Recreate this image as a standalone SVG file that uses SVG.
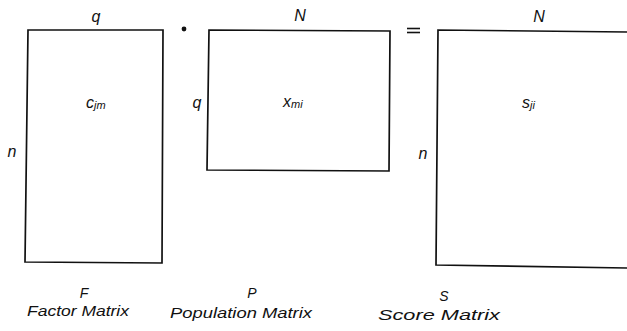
<svg xmlns="http://www.w3.org/2000/svg" width="627" height="331" viewBox="0 0 627 331">
<style>
.m{fill:none;stroke:#111;stroke-width:1.7;stroke-linejoin:miter}
text{font-family:"Liberation Sans","DejaVu Sans",sans-serif;font-style:italic;fill:#111}
.l{font-size:16px}
.s{font-size:14px}
.sub{font-size:11px}
</style>
<rect width="627" height="331" fill="#fff"/>
<g id="factor">
<path class="m" d="M28,30 L163,30 L162,263 L25,262 Z"/>
<text class="l" x="96" y="22" text-anchor="middle">q</text>
<text class="l" x="12" y="157" text-anchor="middle">n</text>
<text class="l" x="86" y="108">c<tspan class="sub" dy="1">jm</tspan></text>
<text class="s" x="84" y="298" text-anchor="middle">F</text>
<text class="s" x="78" y="316" text-anchor="middle" textLength="102" lengthAdjust="spacingAndGlyphs">Factor Matrix</text>
</g>
<g id="population">
<path class="m" d="M209,30 L390,31 L389,171 L207,170 Z"/>
<text class="l" x="300" y="21" text-anchor="middle">N</text>
<text class="l" x="197" y="108" text-anchor="middle">q</text>
<text class="l" x="283" y="107">x<tspan class="sub" dy="1">mi</tspan></text>
<text class="s" x="252" y="298" text-anchor="middle">P</text>
<text class="s" x="241" y="318" text-anchor="middle" textLength="142" lengthAdjust="spacingAndGlyphs">Population Matrix</text>
</g>
<g id="score">
<path class="m" d="M627,32 L438,30 L436,265 L627,268"/>
<text class="l" x="539" y="22" text-anchor="middle">N</text>
<text class="l" x="423" y="159" text-anchor="middle">n</text>
<text class="l" x="522" y="108">s<tspan class="sub" dy="1">ji</tspan></text>
<text class="s" x="444" y="301" text-anchor="middle">S</text>
<text class="s" x="439" y="320" text-anchor="middle" textLength="122" lengthAdjust="spacingAndGlyphs">Score  Matrix</text>
</g>
<g id="connectors">
<circle cx="184" cy="29" r="2.4" fill="#111"/>
<line x1="407" y1="28.5" x2="420" y2="28.5" stroke="#111" stroke-width="1.6"/>
<line x1="407" y1="32.5" x2="420" y2="32.5" stroke="#111" stroke-width="1.6"/>
</g>
</svg>
